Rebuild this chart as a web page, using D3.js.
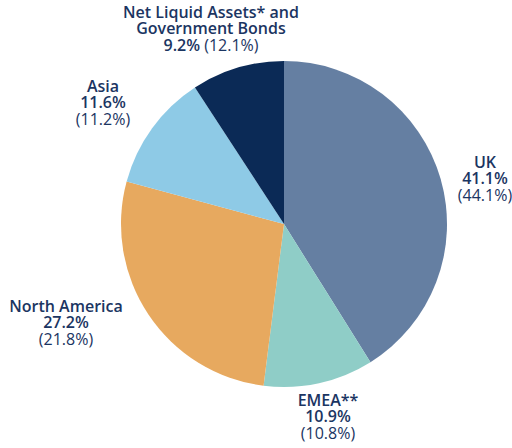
<!DOCTYPE html>
<html><head><meta charset="utf-8">
<script src="https://cdn.jsdelivr.net/npm/d3@7"></script>
<style>body{margin:0;background:#fff;}svg{display:block;font-family:"Open Sans",sans-serif;}</style>
</head><body>
<svg id="c" width="512" height="448"></svg>
<script>
const categories = ["UK", "EMEA**", "North America", "Asia", "Net Liquid Assets* and|Government Bonds"];
const values = [41.1, 10.9, 27.2, 11.6, 9.2];
const previous = [44.1, 10.8, 21.8, 11.2, 12.1];
const colors = ["#657fa2", "#8fcdc7", "#e7a95f", "#8ecae6", "#0b2a56"];
const labelPos = [[485,162],[328,400],[66,306],[103,86],[211,12]];

const svg = d3.select("#c");
const cx = 284, cy = 224, r = 163;
const pie = d3.pie().sort(null).value(d => d)(values);
const arc = d3.arc().innerRadius(0).outerRadius(r);
const g = svg.append("g").attr("transform", `translate(${cx},${cy})`);
g.selectAll("path").data(pie).join("path")
  .attr("d", arc).attr("fill", (d,i) => colors[i]);

const textColor = "#1b3562";
categories.forEach((c, i) => {
  const [x, y] = labelPos[i];
  const lines = c.split("|");
  const t = svg.append("text").attr("text-anchor", "middle").attr("fill", textColor)
    .attr("font-size", 16);
  const lh = 16.5;
  if (i === 4) {
    lines.forEach((l, k) => t.append("tspan").attr("x", x).attr("y", y + 5.5 + k*lh)
      .attr("font-weight", 600).text(l));
    const t3 = t.append("tspan").attr("x", x).attr("y", y + 5.5 + lines.length*lh);
    t3.append("tspan").attr("font-weight", 600).text(values[i].toFixed(1) + "% ");
    t3.append("tspan").attr("font-weight", 400).text("(" + previous[i].toFixed(1) + "%)");
  } else {
    t.append("tspan").attr("x", x).attr("y", y + 5.5).attr("font-weight", 600).text(lines[0]);
    t.append("tspan").attr("x", x).attr("y", y + 5.5 + lh).attr("font-weight", 600).text(values[i].toFixed(1) + "%");
    t.append("tspan").attr("x", x).attr("y", y + 5.5 + 2*lh).attr("font-weight", 400).text("(" + previous[i].toFixed(1) + "%)");
  }
});
</script>
</body></html>
